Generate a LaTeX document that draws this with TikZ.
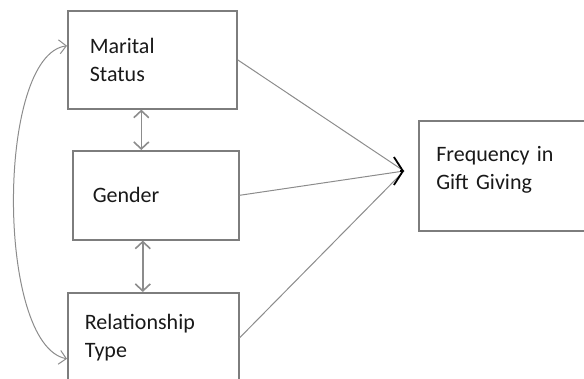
\documentclass[tikz,border=0pt]{standalone}
\usepackage{fontspec}
\setmainfont{Carlito}
\usetikzlibrary{arrows.meta}
\definecolor{boxgray}{RGB}{125,125,125}
\definecolor{linegray}{RGB}{140,140,140}
\definecolor{txt}{RGB}{25,25,25}
\begin{document}
\begin{tikzpicture}[x=1pt,y=-1pt,
  box/.style={draw=boxgray, line width=1.6pt, rectangle, inner sep=0pt, text=txt,
    font=\fontsize{22}{28}\selectfont, align=left, anchor=north west},
  dbl/.style={{Straight Barb[length=7pt,width=15pt]}-{Straight Barb[length=7pt,width=15pt]}, draw=linegray, line width=1.6pt},
  conn/.style={draw=linegray, line width=1pt}]
\useasboundingbox (0,0) rectangle (584,378);
\begin{scope}
\clip (0,0) rectangle (584,378);
\node[box, minimum width=169pt, minimum height=98pt, text width=125pt] (ms) at (67,10) {Marital\\Status};
\node[box, minimum width=166pt, minimum height=89pt, text width=126pt] (gd) at (72,150) {Gender};
\node[box, minimum width=171pt, minimum height=90pt, text width=137pt] (rt) at (67,292) {Relationship\\Type};
\node[box, minimum width=185pt, minimum height=110pt, text width=150pt, text depth=44pt] (fg) at (418,120) {Frequency in\\Gift Giving};
\coordinate (conv) at (404,171);
\draw[conn] (ms.east) -- (conv);
\draw[conn] (gd.east) -- (conv);
\draw[conn] (rt.east) -- (conv);
\draw[line width=1.8pt, -{Straight Barb[length=9pt,width=28pt]}] ([xshift=-4pt]conv) -- (conv);
\draw[dbl] ([xshift=-11pt]ms.south) -- ([xshift=-11pt]ms.south |- gd.north);
\draw[dbl] ([xshift=-13pt]gd.south) -- ([xshift=-13pt]gd.south |- rt.north);
\draw[draw=linegray, line width=1pt, {Straight Barb[length=7pt,width=14pt]}-{Straight Barb[length=7pt,width=14pt]}]
  ([yshift=14pt]ms.west) .. controls (-4,55) and (-4,345) .. ([yshift=-21pt]rt.west);
\end{scope}
\end{tikzpicture}
\end{document}
